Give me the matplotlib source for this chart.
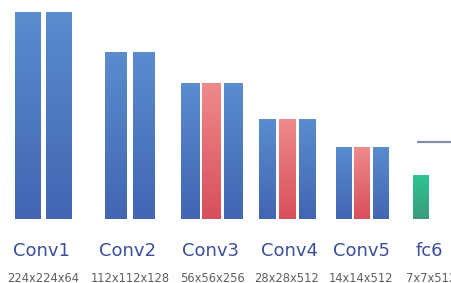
import numpy as np
import matplotlib
matplotlib.use('Agg')
import matplotlib.pyplot as plt
from matplotlib.colors import LinearSegmentedColormap

# data
layers = ['Conv1', 'Conv2', 'Conv3', 'Conv4', 'Conv5', 'fc6']
shapes = ['224x224x64', '112x112x128', '56x56x256', '28x28x512', '14x14x512', '7x7x512']
# bar heights per layer, one entry per bar ('b' = blue, 'r' = red, 'g' = green)
heights = [207, 167, 136, 100, 72, 44]
kinds = [['b', 'b'], ['b', 'b'], ['b', 'r', 'b'], ['b', 'r', 'b'], ['b', 'r', 'b'], ['g']]
fc_line = 77

# layout
centers = [44, 130, 211.5, 288, 362.5, 421]
widths = [26, 22, 18.5, 17, 16, 16]
gaps = [5, 6, 3, 3, 2.5, 0]
label_x = [41, 128, 211, 290, 361.5, 429]
sub_x = [43, 130, 213, 286.5, 361.5, 431]

cmaps = {
    'b': LinearSegmentedColormap.from_list('b', ['#4266b2', '#5a8cce']),
    'r': LinearSegmentedColormap.from_list('r', ['#d74f5a', '#ef8a8c']),
    'g': LinearSegmentedColormap.from_list('g', ['#3b9a7c', '#2dc492']),
}
grad = np.linspace(0, 1, 256).reshape(-1, 1)

fig = plt.figure(figsize=(4.52, 2.83), dpi=100)
ax = fig.add_axes([0, 0, 1, 1])
ax.set_xlim(0, 452)
ax.set_ylim(-64, 219)
ax.axis('off')

for i, name in enumerate(layers):
    n = len(kinds[i])
    w = widths[i]
    step = w + gaps[i]
    xs = centers[i] + (np.arange(n) - (n - 1) / 2) * step
    bars = ax.bar(xs, [heights[i]] * n, width=w, color='none', edgecolor='none')
    for b, k in zip(bars, kinds[i]):
        x0 = b.get_x()
        im = ax.imshow(grad, cmap=cmaps[k], aspect='auto', origin='lower',
                       extent=[x0, x0 + b.get_width(), 0, b.get_height()])
        im.set_clip_path(b)
    ax.text(label_x[i], -32, name, ha='center', va='center',
            fontsize=13, color='#3b4e9c')
    ax.text(sub_x[i], -59, shapes[i], ha='center', va='center',
            fontsize=8.3, color='#5e5e5e')

ax.hlines(fc_line, 417, 452, color='#7d90a6', linewidth=1.6)
ax.set_xlim(0, 452)
ax.set_ylim(-64, 219)

fig.savefig('out.png', dpi=100)
